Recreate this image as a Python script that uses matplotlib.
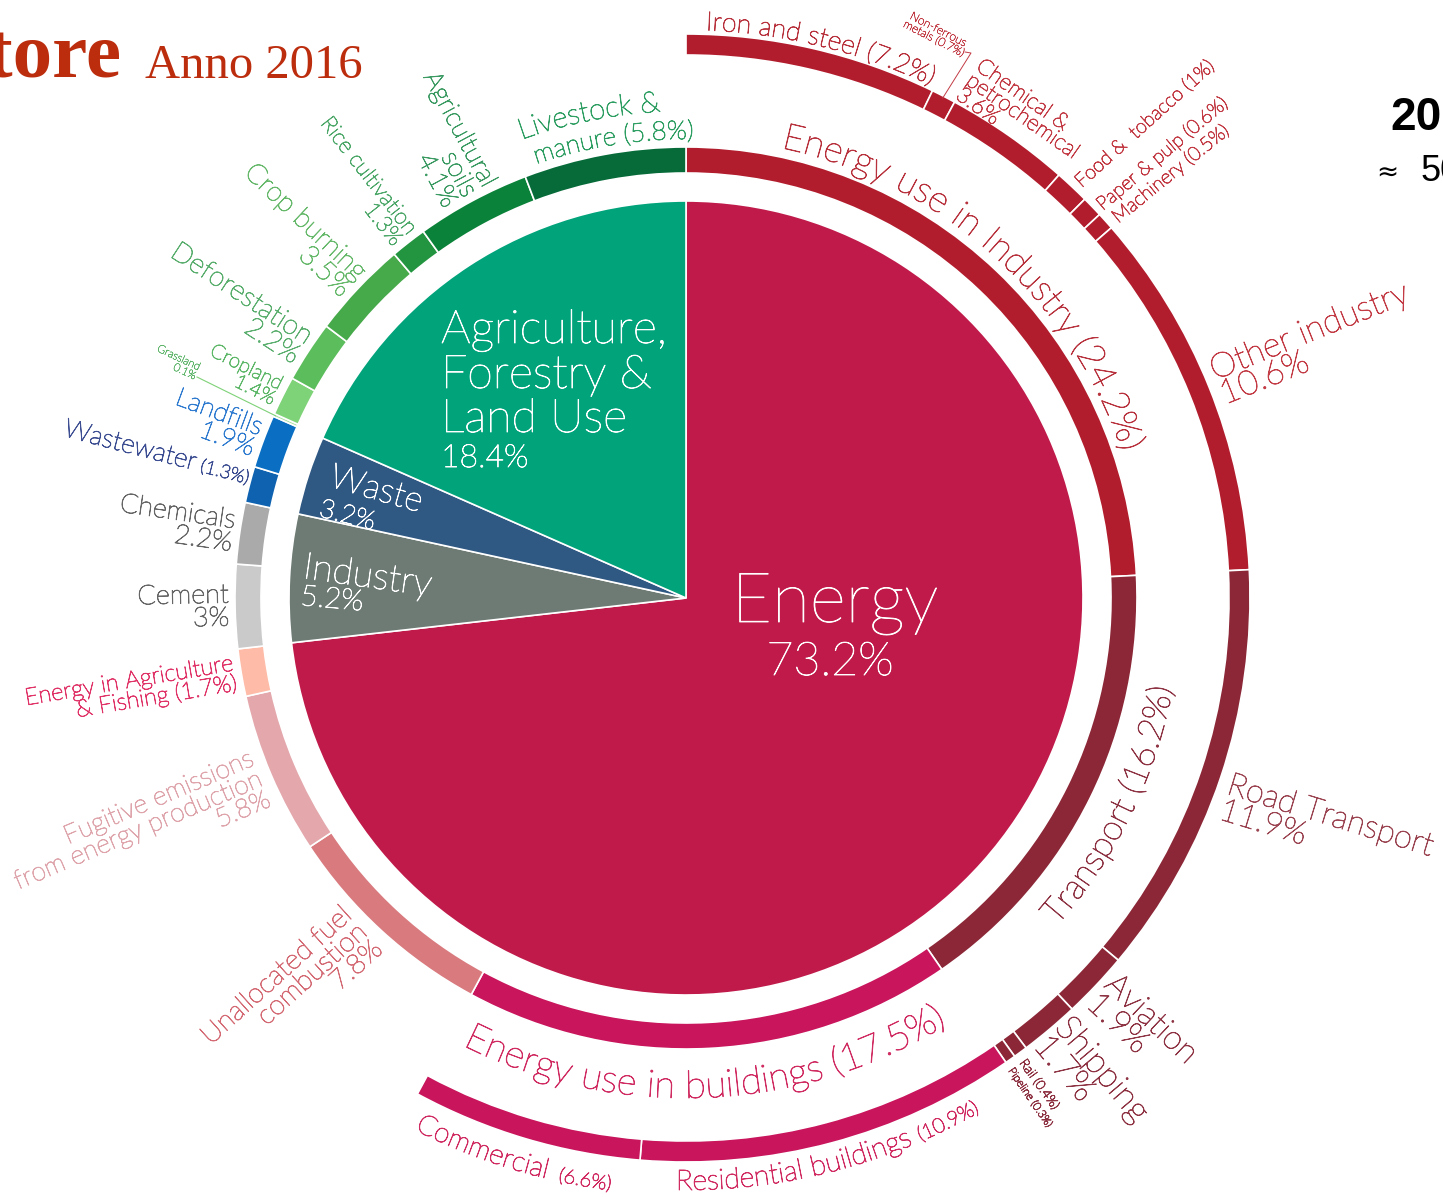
import numpy as np
import matplotlib
matplotlib.use('Agg')
import matplotlib.pyplot as plt
import matplotlib.patheffects as pe
from matplotlib.font_manager import FontProperties

# ---------------- data ----------------
sectors = ['Energy', 'Industry', 'Waste', 'Agriculture, Forestry & Land Use']
sector_values = [73.2, 5.2, 3.2, 18.4]

subsectors = ['Energy use in Industry', 'Transport', 'Energy use in buildings',
              'Unallocated fuel combustion', 'Fugitive emissions from energy production',
              'Energy in Agriculture & Fishing', 'Cement', 'Chemicals', 'Wastewater',
              'Landfills', 'Grassland', 'Cropland', 'Deforestation', 'Crop burning',
              'Rice cultivation', 'Agricultural soils', 'Livestock & manure']
subsector_values = [24.2, 16.2, 17.5, 7.8, 5.8, 1.7, 3.0, 2.2, 1.3, 1.9, 0.1, 1.4,
                    2.2, 3.5, 1.3, 4.1, 5.8]

details = ['Iron and steel', 'Non-ferrous metals', 'Chemical & petrochemical',
           'Food & tobacco', 'Paper & pulp', 'Machinery', 'Other industry',
           'Road Transport', 'Aviation', 'Shipping', 'Rail', 'Pipeline',
           'Residential buildings', 'Commercial']
detail_values = [7.2, 0.7, 3.6, 1.0, 0.6, 0.5, 10.6, 11.9, 1.9, 1.7, 0.4, 0.3, 10.9, 6.6]

# ---------------- styles ----------------
sector_colors = ['#C01A4A', '#6E7B75', '#2F5883', '#00A37A']
subsector_colors = ['#B21D2D', '#8B2737', '#C8155C', '#D97A7E', '#E3A7AC', '#FEBBA7',
                    '#CACACA', '#AAAAAA', '#0E62B0', '#0A6EC2', '#A8E0A0', '#7ED277',
                    '#5CBD5C', '#46A94A', '#23943F', '#0B8239', '#066B39']
detail_colors = ['#B21D2D'] * 7 + ['#8B2737'] * 5 + ['#C8155C'] * 2

FONT = ['Lato', 'DejaVu Sans']
WT = 'light'
STROKE = 0.6
plt.rcParams['font.family'] = FONT

W, H = 1443, 1197
fig = plt.figure(figsize=(W / 100, H / 100), dpi=100)
ax = fig.add_axes([0, 0, 1, 1])
CX, CY = 686, H - 598
R_PIE, R_MID, W_MID, R_OUT, W_OUT = 397, 451, 26, 564, 21

edge = dict(edgecolor='white', linewidth=1.2)
ax.pie(sector_values, radius=R_PIE, center=(CX, CY), startangle=90, counterclock=False,
       colors=sector_colors, wedgeprops=edge, frame=True)
ax.pie(subsector_values, radius=R_MID, center=(CX, CY), startangle=90, counterclock=False,
       colors=subsector_colors, wedgeprops=dict(width=W_MID, **edge), frame=True)
rest = 100 - sum(detail_values)
wd, _ = ax.pie(detail_values + [rest], radius=R_OUT, center=(CX, CY), startangle=90,
               counterclock=False, colors=detail_colors + ['white'],
               wedgeprops=dict(width=W_OUT, **edge), frame=True)
wd[-1].set_visible(False)

ax.set_xlim(0, W)
ax.set_ylim(0, H)
ax.set_aspect('equal')
ax.axis('off')


def centers(vals):
    v = np.array(vals, dtype=float)
    return (np.cumsum(v) - v / 2) * 3.6


sub_phi = dict(zip(subsectors, centers(subsector_values)))
det_phi = dict(zip(details, centers(detail_values)))
sub_v = dict(zip(subsectors, subsector_values))
det_v = dict(zip(details, detail_values))


def fmt(v):
    return ('%g' % v) + '%'


def polar(phi, r):
    t = np.radians(phi)
    return CX + r * np.sin(t), CY + r * np.cos(t)


def S(x, y):
    return x, H - y


def PE(c, lw=STROKE):
    return [pe.withStroke(linewidth=lw, foreground=c)]


renderer = fig.canvas.get_renderer()


def text_w(s, fp):
    if not s:
        return 0.0
    a = renderer.get_text_width_height_descent(s + '|', fp, ismath=False)[0]
    b = renderer.get_text_width_height_descent('|', fp, ismath=False)[0]
    return a - b


def curved(segments, phi0, phi1, r, color, inward=False, weight=WT):
    def layout(base):
        items, pos = [], 0.0
        for txt, rel in segments:
            fp = FontProperties(family=FONT, size=base * rel, weight=weight)
            prev = 0.0
            for i in range(len(txt)):
                cur = text_w(txt[:i + 1], fp)
                items.append((txt[i], base * rel, pos + (prev + cur) / 2))
                prev = cur
            pos += prev
        return items, pos

    _, tot10 = layout(10)
    arc = r * np.radians(abs(phi1 - phi0))
    base = 10 * arc / tot10
    items, tot = layout(base)
    phic = (phi0 + phi1) / 2
    for ch, sz, c in items:
        d = np.degrees((c - tot / 2) / r)
        if inward:
            phi = phic - d
            rot = 180 - phi
        else:
            phi = phic + d
            rot = -phi
        if ch == ' ':
            continue
        x, y = polar(phi, r)
        ax.text(x, y, ch, fontsize=sz, color=color, weight=weight, rotation=rot,
                rotation_mode='anchor', ha='center', va='baseline', path_effects=PE(color))


def radial_in(phi, r, text, size, color, rot=None, ls=1.0, tail=None):
    x, y = polar(phi, r)
    if rot is None:
        rot = -90 - phi
    if tail is not None:
        ttxt, tsize = tail
        ax.text(x, y, ttxt, rotation=rot, rotation_mode='anchor', ha='right',
                va='baseline', fontsize=tsize, color=color, weight=WT,
                path_effects=PE(color))
        fp = FontProperties(family=FONT, size=tsize, weight=WT)
        wpx = text_w(' ' + ttxt, fp)
        x -= wpx * np.cos(np.radians(rot))
        y -= wpx * np.sin(np.radians(rot))
        ax.text(x, y, text, rotation=rot, rotation_mode='anchor', ha='right',
                va='baseline', fontsize=size, color=color, weight=WT,
                path_effects=PE(color))
        return
    ax.text(x, y, text, rotation=rot, rotation_mode='anchor', ha='right', va='center',
            multialignment='right', fontsize=size, color=color, weight=WT,
            linespacing=ls, path_effects=PE(color))


def radial_out(phi, r, text, size, color, rot=None, ls=1.0):
    x, y = polar(phi, r)
    if rot is None:
        rot = 90 - phi
    ax.text(x, y, text, rotation=rot, rotation_mode='anchor', ha='left', va='center',
            multialignment='left', fontsize=size, color=color, weight=WT,
            linespacing=ls, path_effects=PE(color))


def label(xy, text, size, color, rot=0, ha='left', va='baseline', weight=WT,
          family=None, ls=1.0, stroke=STROKE):
    x, y = S(*xy)
    kw = {}
    if family is not None:
        kw['family'] = family
    if stroke:
        kw['path_effects'] = PE(color, stroke)
    ax.text(x, y, text, rotation=rot, rotation_mode='anchor', ha=ha, va=va,
            fontsize=size, color=color, weight=weight, linespacing=ls, **kw)


# ---------------- curved labels ----------------
curved([('Energy use in Industry (%s)' % fmt(sub_v['Energy use in Industry']), 1)],
       12.0, 71.5, 460, '#B8323D')
curved([('Transport (%s)' % fmt(sub_v['Transport']), 1)], 131.5, 100.5, 495,
       '#8E3343', inward=True)
curved([('Energy use in buildings (%s)' % fmt(sub_v['Energy use in buildings']), 1)],
       206.5, 148.5, 500, '#D02C62', inward=True)
curved([('Iron and steel (%s)' % fmt(det_v['Iron and steel']), 1)], 2.0, 25.5, 568,
       '#B8323D')
curved([('Livestock &', 1)], -19.7, -3.0, 487, '#2E9E62')
curved([('manure (%s)' % fmt(sub_v['Livestock & manure']), 1)], -19.0, 0.9, 459, '#2E9E62')
curved([('Commercial', 1), ('  (%s)' % fmt(det_v['Commercial']), 0.72)], 207.0, 187.3,
       597, '#D02C62', inward=True)
curved([('Residential buildings ', 1), ('(%s)' % fmt(det_v['Residential buildings']), 0.72)],
       181.0, 150.2, 592, '#D02C62', inward=True)

# ---------------- left side (radial, reading inward) ----------------
RL = 457
radial_in(sub_phi['Agricultural soils'], RL,
          'Agricultural\nsoils\n%s' % fmt(sub_v['Agricultural soils']), 19, '#3A9A62', ls=0.9)
radial_in(sub_phi['Rice cultivation'], RL,
          'Rice cultivation\n%s' % fmt(sub_v['Rice cultivation']), 16, '#4EA86A', ls=0.9)
radial_in(sub_phi['Crop burning'], RL,
          'Crop burning\n%s' % fmt(sub_v['Crop burning']), 20, '#66B86A', ls=0.9)
radial_in(sub_phi['Deforestation'], RL,
          'Deforestation\n%s' % fmt(sub_v['Deforestation']), 20, '#5AAE6E', ls=0.9)
radial_in(sub_phi['Cropland'], RL,
          'Cropland\n%s' % fmt(sub_v['Cropland']), 14.5, '#5FB86A', ls=0.9)
radial_in(sub_phi['Landfills'], RL,
          'Landfills\n%s' % fmt(sub_v['Landfills']), 19, '#2F7BD0', ls=0.9)
radial_in(sub_phi['Wastewater'], RL - 4, 'Wastewater', 19, '#3D4F92',
          tail=('(%s)' % fmt(sub_v['Wastewater']), 13.5))
radial_in(sub_phi['Chemicals'], RL,
          'Chemicals\n%s' % fmt(sub_v['Chemicals']), 19.5, '#666666', ls=0.9)
radial_in(sub_phi['Cement'], RL,
          'Cement\n%s' % fmt(sub_v['Cement']), 19.5, '#666666', ls=0.9)
radial_in(sub_phi['Energy in Agriculture & Fishing'], RL,
          'Energy in Agriculture\n& Fishing (%s)' % fmt(sub_v['Energy in Agriculture & Fishing']),
          17, '#E03468', ls=0.9)
radial_in(sub_phi['Fugitive emissions from energy production'], RL + 5,
          'Fugitive emissions\nfrom energy production\n%s'
          % fmt(sub_v['Fugitive emissions from energy production']), 19, '#DFA5AC', ls=0.9)
radial_in(sub_phi['Unallocated fuel combustion'] + 1.8, RL + 5,
          'Unallocated fuel\ncombustion\n%s' % fmt(sub_v['Unallocated fuel combustion']),
          20, '#D36A74', ls=0.9, rot=42)

# Grassland with leader line
gx, gy = polar(sub_phi['Grassland'], R_MID - 2)
ax.plot([gx, 197], [gy, H - 377], color='#7ED277', lw=0.8)
label((198, 372), 'Grassland\n%s' % fmt(sub_v['Grassland']), 8, '#5EB56A', rot=-25,
      ha='right', va='center', ls=0.9, stroke=0.35)

# ---------------- right side (radial, reading outward) ----------------
RR = 572
radial_out(det_phi['Other industry'], RR,
           'Other industry\n%s' % fmt(det_v['Other industry']), 24.5, '#C23B45', ls=0.85)
radial_out(det_phi['Road Transport'] + 1.8, RR + 2,
           'Road Transport\n%s' % fmt(det_v['Road Transport']), 23.5, '#9B4452', ls=0.85,
           rot=-17)
radial_out(det_phi['Aviation'], RR - 2,
           'Aviation\n%s' % fmt(det_v['Aviation']), 24, '#8E3343', ls=0.85)
radial_out(det_phi['Shipping'], RR - 6,
           'Shipping\n%s' % fmt(det_v['Shipping']), 25, '#8E3343', ls=0.85)
radial_out(det_phi['Rail'] + 0.4, RR, 'Rail (%s)' % fmt(det_v['Rail']), 9.5, '#8E3343')
radial_out(det_phi['Pipeline'] + 0.5, RR, 'Pipeline (%s)' % fmt(det_v['Pipeline']), 8,
           '#8E3343')
radial_out(det_phi['Food & tobacco'] + 0.3, RR - 2,
           'Food &  tobacco (%s)' % fmt(det_v['Food & tobacco']), 14, '#C23B45', rot=42)
radial_out(det_phi['Paper & pulp'] + 0.5, RR - 3,
           'Paper & pulp (%s)' % fmt(det_v['Paper & pulp']), 14, '#C23B45', rot=40)
radial_out(det_phi['Machinery'] + 0.5, RR,
           'Machinery (%s)' % fmt(det_v['Machinery']), 14, '#C23B45', rot=39)

# tangential labels at top right
label((984, 56), 'Chemical &\npetrochemical\n%s' % fmt(det_v['Chemical & petrochemical']),
      16, '#C23B45', rot=-35, ha='left', va='top', ls=0.85)
nx, ny = polar(det_phi['Non-ferrous metals'], R_OUT - 2)
ax.plot([nx, 971, 965], [ny, H - 53, H - 52], color='#C23B45', lw=0.7)
label((936, 34), 'Non-ferrous\nmetals (%s)' % fmt(det_v['Non-ferrous metals']), 8.5,
      '#C23B45', rot=-27, ha='center', va='center', ls=0.9, stroke=0.35)

# ---------------- inside the pie ----------------
label((835, 622), 'Energy', 50, 'white', ha='center')
label((830, 675), fmt(sector_values[0]), 33.5, 'white', ha='center')
label((441, 343), 'Agriculture,', 33.5, 'white')
label((441, 388), 'Forestry &', 33.5, 'white')
label((441, 432), 'Land Use', 33.5, 'white')
label((441, 467), fmt(sector_values[3]), 23, 'white')
label((328, 486), 'Waste', 25, 'white', rot=-16)
label((318, 516), fmt(sector_values[2]), 19, 'white', rot=-14)
label((302, 578), 'Industry', 27, 'white', rot=-8)
label((300, 605), fmt(sector_values[1]), 21, 'white', rot=-5)

# ---------------- title fragments ----------------
label((122, 78), 'settore', 57, '#BC2D0E', ha='right', weight='bold',
      family=['Liberation Serif'], stroke=0)
label((145, 78), 'Anno 2016', 35, '#BC2D0E', family=['Liberation Serif'], weight='normal',
      stroke=0)
label((1390, 130), '2016', 33, 'black', weight='bold', family=['Liberation Sans'],
      stroke=0)
label((1376, 180), '\u2248', 19, 'black', weight='normal',
      family=['DejaVu Sans'], stroke=0)
label((1420, 181), '50', 26, 'black', weight='normal',
      family=['Liberation Sans', 'DejaVu Sans'], stroke=0)

fig.savefig('out.png', dpi=100)
